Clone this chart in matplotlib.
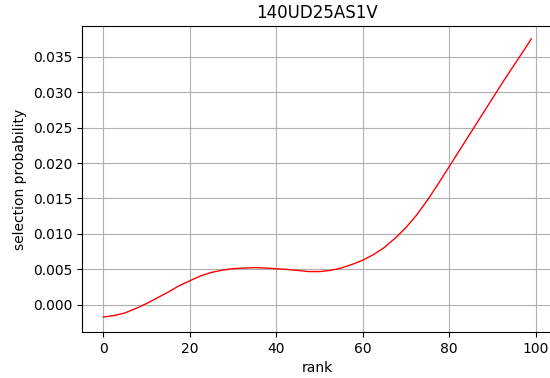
import numpy as np
import matplotlib
matplotlib.use('Agg')
import matplotlib.pyplot as plt

# values
rank = [0, 2.5, 5, 7.5, 10, 12.5, 15, 17.5, 20, 22.5, 25, 27.5, 30, 32.5, 35, 37.5,
        40, 42.5, 45, 47.5, 50, 52.5, 55, 57.5, 60, 62.5, 65, 67.5, 70, 72.5, 75, 77.5,
        80, 82.5, 85, 87.5, 90, 92.5, 95, 97.5, 99]
prob = [-0.0017, -0.0015, -0.00113, -0.0005, 0.0002, 0.001, 0.0018, 0.0027, 0.0034, 0.0041,
        0.00458, 0.0049, 0.00512, 0.0052, 0.00525, 0.0052, 0.0051, 0.00500, 0.00486, 0.0047,
        0.0047, 0.00486, 0.0052, 0.0057, 0.0063, 0.0071, 0.0081, 0.0094, 0.0109, 0.0127,
        0.0148, 0.0171, 0.0195, 0.0219, 0.0243, 0.0267, 0.0291, 0.0315, 0.0338, 0.0361, 0.0375]
title = '140UD25AS1V'

fig = plt.figure(figsize=(5.5, 3.78), dpi=100)
ax = fig.add_axes([0.149, 0.122, 0.856, 0.809])
ax.plot(rank, prob, 'r', linewidth=1)
ax.set_xlim(-4.95, 103.95)
ax.set_ylim(-0.0038, 0.0393)
ax.set_xticks([0, 20, 40, 60, 80, 100])
ax.set_yticks(np.arange(0, 0.0351, 0.005))
ax.grid(True, color='#b0b0b0', linewidth=0.8)
ax.set_axisbelow(True)
ax.set_xlabel('rank')
ax.set_ylabel('selection probability')
ax.set_title(title)
plt.savefig('out.png', dpi=100)
